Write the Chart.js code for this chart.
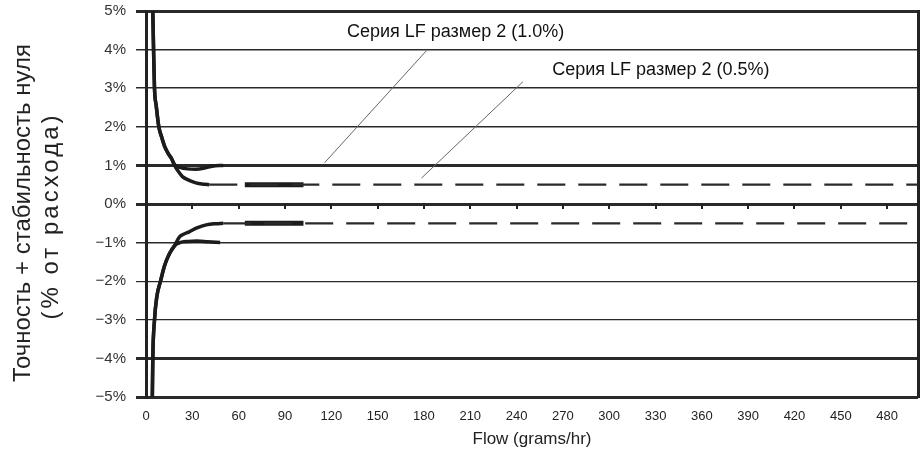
<!DOCTYPE html>
<html>
<head>
<meta charset="utf-8">
<script src="https://cdn.jsdelivr.net/npm/chart.js@4/dist/chart.umd.min.js"></script>
<style>
  html, body { margin: 0; padding: 0; background: #fff; }
  #wrap { width: 923px; height: 455px; }
</style>
</head>
<body>
<div id="wrap"><canvas id="flowChart"></canvas></div>
<script>
// tick values
const xTicks = [0, 30, 60, 90, 120, 150, 180, 210, 240, 270, 300, 330, 360, 390, 420, 450, 480];
const yTicks = [-5, -4, -3, -2, -1, 0, 1, 2, 3, 4, 5];

// curves, [flow g/hr, % of rate]
const upperCommon = [[4.2, 5.5], [4.4, 5.0], [4.9, 4.0], [5.5, 3.0], [6.6, 2.55], [8.3, 2.0], [10, 1.75], [12, 1.5], [14.5, 1.3], [16.5, 1.18]];
const upper10 = [[18.5, 1.02], [22, 0.95], [27, 0.91], [32, 0.9], [38, 0.93], [43, 0.98], [50, 1.0]];
const upper05 = [[18.5, 1.0], [21, 0.84], [23.6, 0.71], [27, 0.63], [30, 0.58], [34, 0.53], [38, 0.51], [41, 0.5]];
const lowerCommon = [[4.0, -5.5], [4.1, -5.0], [4.4, -4.0], [5.5, -3.0], [7, -2.4], [9.4, -2.0], [12, -1.6], [15, -1.3], [18.5, -1.08]];
const lower10 = [[22, -1.0], [27, -0.97], [33, -0.96], [40, -0.98], [48, -1.0]];
const lower05 = [[21.7, -0.85], [25, -0.77], [28, -0.72], [33, -0.62], [39, -0.54], [45, -0.51], [50, -0.5]];

// flat 0.5% parts
const upperFlat = [[41, 0.5], [500, 0.5]];
const lowerFlat = [[50, -0.5], [500, -0.5]];
const upperBar = [[64, 0.5], [102, 0.5]];
const lowerBar = [[64, -0.5], [102, -0.5]];

// callout labels and their leader lines
const labelTexts = ['Серия LF размер 2 (1.0%)', 'Серия LF размер 2 (0.5%)'];
const labelPos = [[200.5, 4.46], [333.5, 3.47]];
const leader10 = [[181.6, 3.97], [115.7, 1.07]];
const leader05 = [[244.2, 3.17], [178.4, 0.67]];

const yTitle = ['Точность + стабильность нуля', '(% от расхода)'];

const gridWidths = { '5': 3, '4': 1.5, '3': 1.5, '2': 1.5, '1': 3, '0': 3, '-1': 1.5, '-2': 1.2, '-3': 1.2, '-4': 3, '-5': 3 };

const FONT = "'Liberation Sans', Arial, sans-serif";
const ink = '#222';

const pts = (arr) => arr.map(([x, y]) => ({ x, y }));

function curve(data, width) {
  return { data: pts(data), borderColor: '#1c1c1c', borderWidth: width, pointRadius: 0, cubicInterpolationMode: 'monotone', fill: false };
}

const calloutPlugin = {
  id: 'callouts',
  afterDatasetsDraw(chart) {
    const { ctx, scales: { x, y } } = chart;
    ctx.save();
    // small x ticks hanging under the 0% line
    const y0 = y.getPixelForValue(0);
    ctx.strokeStyle = ink;
    ctx.lineWidth = 2;
    xTicks.slice(1).forEach((v) => {
      const px = Math.round(x.getPixelForValue(v));
      ctx.beginPath();
      ctx.moveTo(px, y0);
      ctx.lineTo(px, y0 + 5);
      ctx.stroke();
    });
    ctx.font = '18px ' + FONT;
    ctx.fillStyle = '#111';
    ctx.textAlign = 'center';
    ctx.textBaseline = 'middle';
    labelTexts.forEach((t, i) => {
      ctx.fillText(t, x.getPixelForValue(labelPos[i][0]), y.getPixelForValue(labelPos[i][1]));
    });

    // rotated y title, second line is spaced wider in the original
    const midY = (y.top + y.bottom) / 2;
    ctx.fillStyle = ink;
    ctx.font = '24px ' + FONT;
    ctx.translate(23, midY + 9);
    ctx.rotate(-Math.PI / 2);
    ctx.fillText(yTitle[0], 0, 0);
    ctx.rotate(Math.PI / 2);
    ctx.translate(28, 3);
    ctx.rotate(-Math.PI / 2);
    ctx.letterSpacing = '3px';
    ctx.fillText(yTitle[1], 0, 0);
    ctx.restore();
  }
};

new Chart(document.getElementById('flowChart'), {
  type: 'line',
  data: {
    datasets: [
      curve(upperCommon.concat(upper10), 3.5),
      curve(upperCommon.concat(upper05), 3.5),
      curve(lowerCommon.concat(lower10), 3.5),
      curve(lowerCommon.concat(lower05), 3.5),
      { data: pts(upperFlat), borderColor: '#2a2a2a', borderWidth: 2.2, borderDash: [28, 13], pointRadius: 0 },
      { data: pts(lowerFlat), borderColor: '#2a2a2a', borderWidth: 2.2, borderDash: [28, 13], pointRadius: 0 },
      { data: pts(upperBar), borderColor: '#1c1c1c', borderWidth: 5, pointRadius: 0 },
      { data: pts(lowerBar), borderColor: '#1c1c1c', borderWidth: 5, pointRadius: 0 },
      { data: pts(leader10), borderColor: '#666', borderWidth: 1, pointRadius: 0 },
      { data: pts(leader05), borderColor: '#666', borderWidth: 1, pointRadius: 0 }
    ]
  },
  options: {
    responsive: true,
    maintainAspectRatio: false,
    animation: false,
    layout: { padding: { left: 0, top: 11, right: 5, bottom: 0 } },
    plugins: {
      legend: { display: false },
      tooltip: { enabled: false }
    },
    scales: {
      x: {
        type: 'linear',
        min: 0,
        max: 500,
        afterBuildTicks: (scale) => { scale.ticks = xTicks.map((v) => ({ value: v })); },
        afterFit: (scale) => { scale.height = 58; scale.paddingLeft = 0; scale.paddingRight = 0; },
        grid: { display: false, drawTicks: false },
        border: { display: false },
        ticks: { color: ink, padding: 12, maxRotation: 0, autoSkip: false, font: { family: FONT, size: 13 } },
        title: { display: true, text: 'Flow (grams/hr)', color: ink, font: { family: FONT, size: 17 }, padding: { top: 0, bottom: 5 } }
      },
      y: {
        min: -5,
        max: 5,
        afterBuildTicks: (scale) => { scale.ticks = yTicks.map((v) => ({ value: v })); },
        afterFit: (scale) => { scale.width = 146; scale.paddingTop = 0; scale.paddingBottom = 0; },
        grid: {
          color: '#2a2a2a',
          lineWidth: (c) => gridWidths[String(c.tick.value)] || 1,
          tickLength: 10
        },
        border: { display: true, color: ink, width: 3 },
        ticks: {
          color: '#333',
          padding: 10,
          font: { family: FONT, size: 15 },
          callback: (v) => (v < 0 ? '\u2212' + Math.abs(v) : v) + '%'
        }
      },
      y2: {
        position: 'right',
        min: -5,
        max: 5,
        afterFit: (scale) => { scale.width = 0; scale.paddingTop = 0; scale.paddingBottom = 0; },
        grid: { display: false, drawTicks: false },
        border: { display: true, color: ink, width: 3 },
        ticks: { display: false }
      }
    }
  },
  plugins: [calloutPlugin]
});
</script>
</body>
</html>
